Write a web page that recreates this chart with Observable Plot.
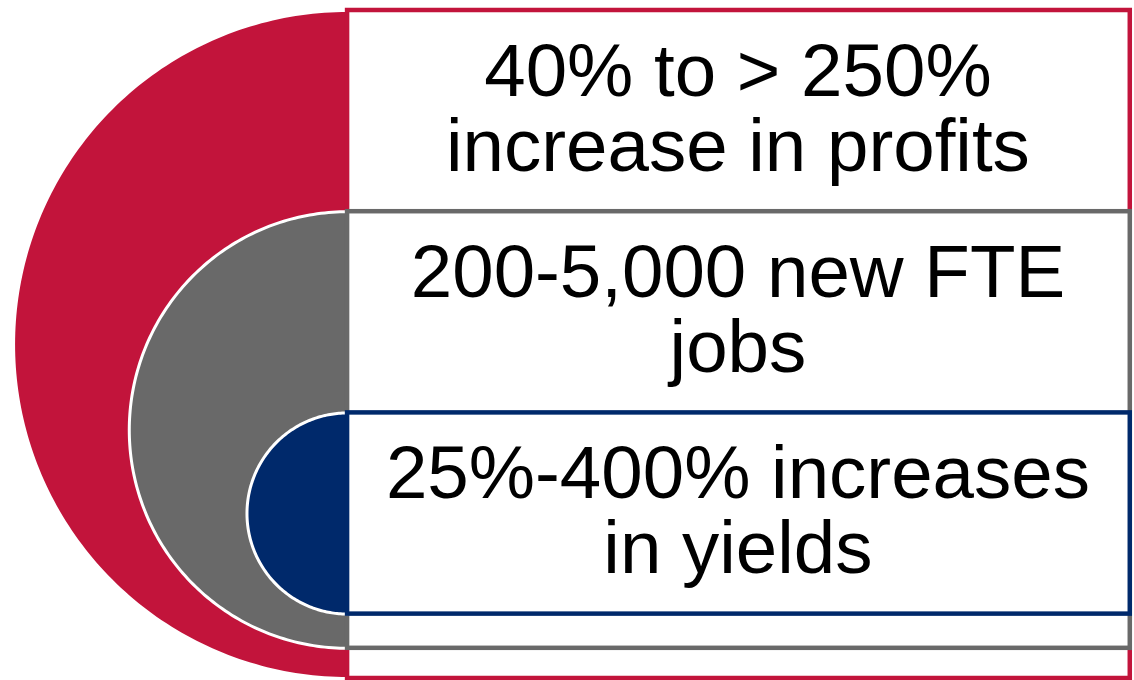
<!DOCTYPE html>
<html>
<head>
<meta charset="utf-8">
<script src="https://cdn.jsdelivr.net/npm/d3@7"></script>
<script src="https://cdn.jsdelivr.net/npm/@observablehq/plot@0.6"></script>
<style>
  html, body { margin: 0; padding: 0; background: #fff; }
  #chart svg { display: block; }
</style>
</head>
<body>
<div id="chart"></div>
<script>
// ---- data ----
const tiers = ["Profits", "Jobs", "Yields"];
const labels = [
  "40% to > 250%\nincrease in profits",
  "200-5,000 new FTE\njobs",
  "25%-400% increases\nin yields"
];
const colors = ["#C2143B", "#696969", "#00296B"];

// ---- layout (abstract units: one tier band = 1) ----
const tierTop = [0, 1, 2];
const tierBottom = [3.32, 3.17, 3.0];
const boxRight = 3.89;

const rects = tiers.map((t, i) => ({
  tier: t, x1: 0, x2: boxRight, y1: tierTop[i], y2: tierBottom[i], color: colors[i]
}));

function halfDisc(i) {
  const cy = (tierTop[i] + tierBottom[i]) / 2;
  const r = (tierBottom[i] - tierTop[i]) / 2;
  return d3.range(0, 181).map(k => {
    const a = -Math.PI / 2 + (k / 180) * Math.PI;
    return { x: -r * Math.cos(a), y: cy + r * Math.sin(a), tier: tiers[i] };
  });
}

const texts = tiers.map((t, i) => ({
  tier: t, x: boxRight / 2 - 0.005, y: tierTop[i] + 0.49, label: labels[i]
}));

const marks = [];
tiers.forEach((t, i) => {
  marks.push(Plot.line(halfDisc(i), {
    x: "x", y: "y", fill: colors[i], stroke: "#ffffff", strokeWidth: 3, curve: "linear"
  }));
  marks.push(Plot.rect([rects[i]], {
    x1: "x1", x2: "x2", y1: "y1", y2: "y2", fill: "#ffffff", stroke: colors[i], strokeWidth: 4.5
  }));
});
marks.push(Plot.text(texts, {
  x: "x", y: "y", text: "label", fontSize: 74.5, lineHeight: 1.01,
  fill: "#000000", textAnchor: "middle", lineAnchor: "middle",
  fontFamily: "Liberation Sans, Arial, sans-serif"
}));

const chart = Plot.plot({
  width: 1134,
  height: 680,
  marginTop: 10,
  marginBottom: 2,
  marginLeft: 0,
  marginRight: 0,
  x: { domain: [-1.725, 3.911], axis: null },
  y: { domain: [0, 3.32], reverse: true, axis: null },
  style: { background: "#ffffff", overflow: "visible" },
  marks
});
document.getElementById("chart").appendChild(chart);
</script>
</body>
</html>
